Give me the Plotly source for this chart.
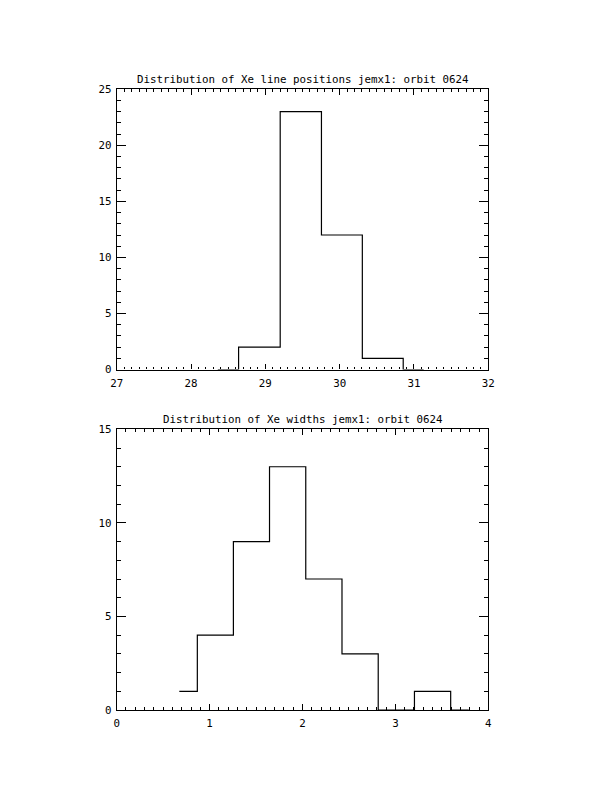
import plotly.graph_objects as go

# Data: histogram bin centers and counts (IDL psym=10 style)
pos_centers = [28.36, 28.92, 29.48, 30.03, 30.58, 31.13]
pos_counts = [0, 2, 23, 12, 1, 0]

width_centers = [0.674, 1.062, 1.45, 1.84, 2.23, 2.62, 3.01, 3.40, 3.79]
width_counts = [1, 4, 9, 13, 7, 3, 0, 1, 0]

title_top = "Distribution of Xe line positions jemx1: orbit 0624"
title_bottom = "Distribution of Xe widths jemx1: orbit 0624"

W, H = 612, 792
x0, x1 = 116.7 / W, 488.3 / W
top_dom = [(792 - 369.5) / H, (792 - 89.3) / H]
bot_dom = [(792 - 710) / H, (792 - 429.3) / H]

LW = 1.2
fig = go.Figure()
line = dict(color="black", width=LW, shape="hvh")
fig.add_trace(go.Scatter(x=pos_centers, y=pos_counts, mode="lines", line=line,
                         xaxis="x", yaxis="y", showlegend=False, hoverinfo="skip"))
fig.add_trace(go.Scatter(x=width_centers, y=width_counts, mode="lines", line=line,
                         xaxis="x2", yaxis="y2", showlegend=False, hoverinfo="skip"))

MONO = "DejaVu Sans Mono"
font = dict(family=MONO, size=10.8, color="black")

def axis(dom, rng, dtick, minor_dtick, anchor, standoff, tl, mtl):
    return dict(domain=dom, range=rng, anchor=anchor, showgrid=False, zeroline=False,
                automargin=False,
                showline=True, linecolor="black", linewidth=LW, mirror="allticks",
                ticks="inside", ticklen=tl, tickwidth=1, tickcolor="black",
                dtick=dtick, tick0=0, tickfont=font, ticklabelstandoff=standoff,
                minor=dict(ticks="inside", ticklen=mtl, dtick=minor_dtick, tickcolor="black",
                           tickwidth=1, showgrid=False))

fig.update_layout(
    width=W, height=H, margin=dict(l=0, r=0, t=0, b=0),
    paper_bgcolor="white", plot_bgcolor="white",
    xaxis=axis([x0, x1], [27, 32], 1, 0.1, "y", 3, 5.5, 2.8),
    yaxis=axis(top_dom, [0, 25], 5, 1, "x", 2, 9, 4.6),
    xaxis2=axis([x0, x1], [0, 4], 1, 0.1, "y2", 3, 5.5, 2.8),
    yaxis2=axis(bot_dom, [0, 15], 5, 1, "x2", 2, 9, 4.6),
    annotations=[
        dict(text=title_top, x=(x0 + x1) / 2, y=top_dom[1], xref="paper", yref="paper",
             xanchor="center", yanchor="bottom", yshift=1.5, showarrow=False,
             font=dict(family=MONO, size=10.8, color="black")),
        dict(text=title_bottom, x=(x0 + x1) / 2, y=bot_dom[1], xref="paper", yref="paper",
             xanchor="center", yanchor="bottom", yshift=1.5, showarrow=False,
             font=dict(family=MONO, size=10.8, color="black")),
    ],
)

fig.write_html(
    "out.html",
    config={"displayModeBar": False},
    post_script=(
        "document.body.style.margin='0';"
        "document.body.style.overflow='hidden';"
        "document.documentElement.style.overflow='hidden';"
    ),
)
